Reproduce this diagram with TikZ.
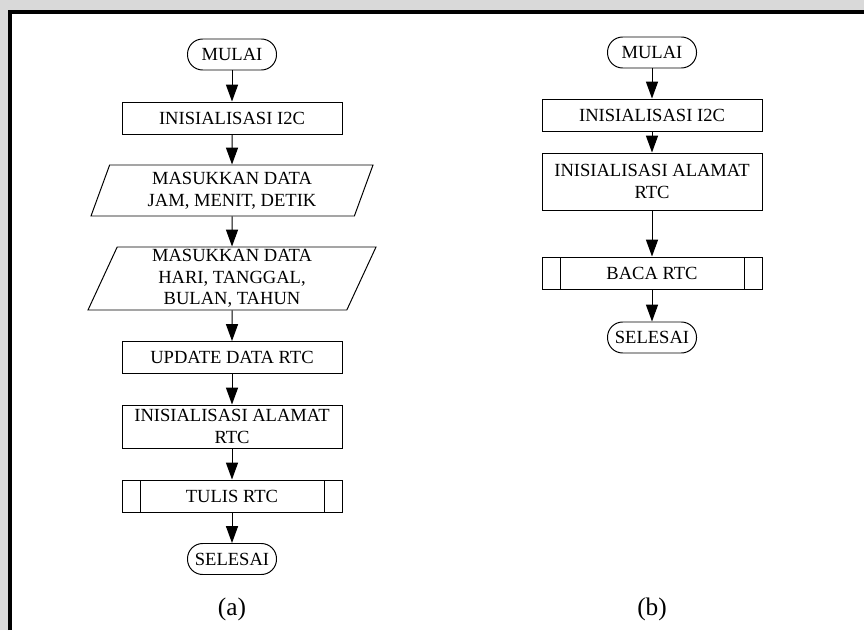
\documentclass[tikz,border=0pt]{standalone}
\usepackage{fontspec}
\setmainfont{Liberation Serif}
\usetikzlibrary{shapes.geometric,arrows.meta}

\begin{document}
\begin{tikzpicture}[
    font=\fontsize{13.2}{15.4}\selectfont,
    >={Triangle[length=4.2mm,width=3mm]},
    line width=0.7pt,
    termbox/.style={draw, rounded corners=0.38cm, minimum width=2.225cm, minimum height=0.775cm, inner sep=2pt},
    procbox/.style={draw, minimum width=5.5cm, minimum height=0.8cm, align=center, inner sep=2pt},
    iobox/.style={draw, trapezium, trapezium left angle=64, trapezium right angle=116,
        trapezium stretches body, align=center, inner xsep=2pt, inner ysep=0.5pt},
    subbox/.style={procbox, path picture={
        \draw ([xshift=0.45cm]path picture bounding box.north west) -- ([xshift=0.45cm]path picture bounding box.south west);
        \draw ([xshift=-0.45cm]path picture bounding box.north east) -- ([xshift=-0.45cm]path picture bounding box.south east);
    }},
    caption/.style={font=\fontsize{18}{20}\selectfont}
]

% ========= Frame =========
\useasboundingbox (0,0) rectangle (21.6,15.75);
\fill[gray!30] (0,0) rectangle (21.6,15.75);
\fill[white] (0.25,0) rectangle (21.6,15.45);
\draw[line width=0.1cm, line join=miter] (0.25,0) -- (0.25,15.45) -- (21.6,15.45);

% ========= Flowchart (a) =========
\node[termbox] (mulaiA) at (5.8,14.3875) {MULAI};
\node[procbox] (i2cA) at (5.8,12.8) {INISIALISASI I2C};
\node[iobox, minimum width=7.05cm, minimum height=1.275cm] (jamA) at (5.8,10.9875) {MASUKKAN DATA\\JAM, MENIT, DETIK};
\node[iobox, minimum width=7.2cm, minimum height=1.575cm] (hariA) at (5.8,8.7875) {MASUKKAN DATA\\HARI, TANGGAL,\\BULAN, TAHUN};
\node[procbox] (updA) at (5.8,6.8125) {UPDATE DATA RTC};
\node[procbox, minimum height=1.075cm] (alamatA) at (5.8,5.0875) {INISIALISASI ALAMAT\\RTC};
\node[subbox] (tulisA) at (5.8,3.35) {TULIS RTC};
\node[termbox] (selesaiA) at (5.8,1.775) {SELESAI};
\node[caption] (capA) at (5.8,0.525) {(a)};

% ========= Flowchart (b) =========
\node[termbox] (mulaiB) at (16.3,14.4375) {MULAI};
\node[procbox] (i2cB) at (16.3,12.875) {INISIALISASI I2C};
\node[procbox, minimum height=1.425cm] (alamatB) at (16.3,11.2125) {INISIALISASI ALAMAT\\RTC};
\node[subbox] (bacaB) at (16.3,8.925) {BACA RTC};
\node[termbox] (selesaiB) at (16.3,7.3125) {SELESAI};
\node[caption] (capB) at (16.3,0.525) {(b)};

% ========= Arrows =========
\foreach \a/\b in {mulaiA/i2cA, i2cA/jamA, jamA/hariA, hariA/updA, updA/alamatA, alamatA/tulisA, tulisA/selesaiA,
                   mulaiB/i2cB, i2cB/alamatB, alamatB/bacaB, bacaB/selesaiB}
{
    \draw[->] (\a) -- (\b);
}

\end{tikzpicture}
\end{document}
